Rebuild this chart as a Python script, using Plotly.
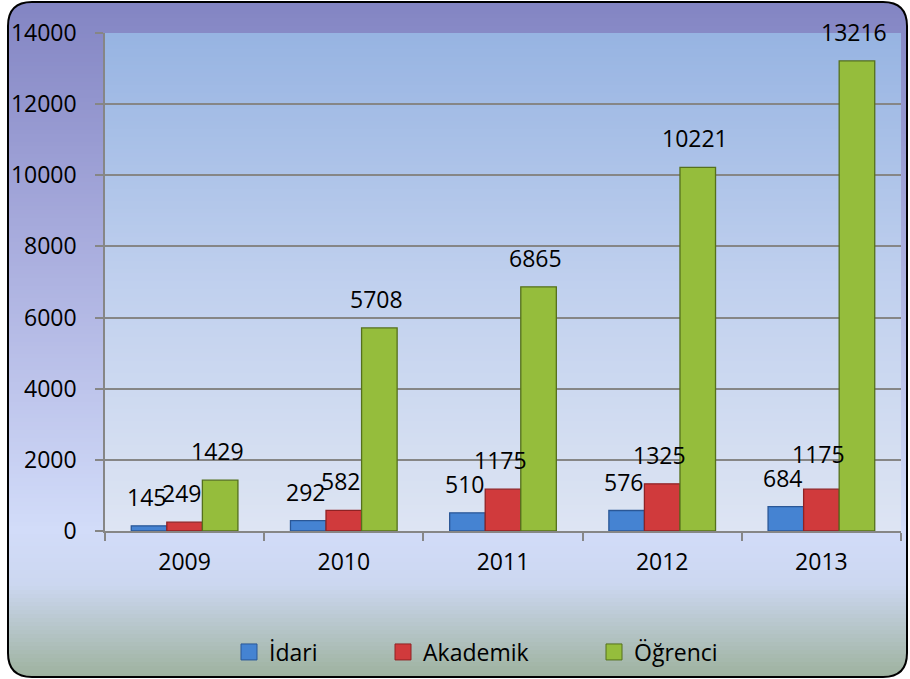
import plotly.graph_objects as go

# ---- data ----
years = ["2009", "2010", "2011", "2012", "2013"]
idari = [145, 292, 510, 576, 684]
akademik = [249, 582, 1175, 1325, 1175]
ogrenci = [1429, 5708, 6865, 10221, 13216]
series_names = ["İdari", "Akademik", "Öğrenci"]
y_ticks = [0, 2000, 4000, 6000, 8000, 10000, 12000, 14000]
y_tick_text = ["0", "2000", "4000", "6000", "8000", "10000", "12000", "14000"]

# ---- styling ----
W, H = 910, 679
L, R, T, B = 105, 9, 33, 148
PW, PH = W - L - R, H - T - B
FONT = "Open Sans"
FS = 23
fills = ["#4583d2", "#d03a3c", "#95bd3c"]
edges = ["#2a5796", "#8f2224", "#55701c"]
BARGAP = 0.33
# extra vertical nudge (px) for a label that sits higher in the original
label_nudge = {(1, 4): 6}


def px(x):
    return (x - L) / PW


def py(y):
    return (H - B - y) / PH


def lerp_color(stops, t):
    for (t0, c0), (t1, c1) in zip(stops, stops[1:]):
        if t <= t1:
            f = 0 if t1 == t0 else (t - t0) / (t1 - t0)
            c = [round(a + (b - a) * f) for a, b in zip(c0, c1)]
            return "rgb(%d,%d,%d)" % tuple(c)
    return "rgb(%d,%d,%d)" % tuple(stops[-1][1])


shapes = []
# outer rounded frame geometry
X0, Y0, X1, Y1, RAD = 8, 2, 907, 677, 24
paper_stops = [(0.0, (131, 133, 195)), (0.35, (168, 172, 221)), (0.78, (210, 220, 249)),
               (0.86, (204, 215, 240)), (1.0, (156, 177, 156))]
step = 4
y = Y0
while y < Y1:
    t = (y - Y0) / (Y1 - Y0)
    shapes.append(dict(type="rect", xref="paper", yref="paper", layer="below",
                       x0=px(X0), x1=px(X1), y0=py(y), y1=py(min(y + step + 1, Y1)),
                       fillcolor=lerp_color(paper_stops, t), line=dict(width=0)))
    y += step

# plot area gradient
plot_stops = [(0.0, (151, 180, 226)), (0.5, (192, 208, 238)), (1.0, (222, 229, 243))]
y = T
while y < H - B:
    t = (y - T) / PH
    shapes.append(dict(type="rect", xref="paper", yref="paper", layer="below",
                       x0=0, x1=1, y0=py(y), y1=py(min(y + step + 1, H - B)),
                       fillcolor=lerp_color(plot_stops, t), line=dict(width=0)))
    y += step


def P(x, y):
    return "%f,%f" % (px(x), py(y))


# white corners outside the rounded frame
corners = [
    "M%s L%s L%s Q%s %s L%s Z" % (P(0, 0), P(X0 + RAD, 0), P(X0 + RAD, Y0), P(X0, Y0), P(X0, Y0 + RAD), P(0, Y0 + RAD)),
    "M%s L%s L%s Q%s %s L%s Z" % (P(W, 0), P(X1 - RAD, 0), P(X1 - RAD, Y0), P(X1, Y0), P(X1, Y0 + RAD), P(W, Y0 + RAD)),
    "M%s L%s L%s Q%s %s L%s Z" % (P(0, H), P(X0 + RAD, H), P(X0 + RAD, Y1), P(X0, Y1), P(X0, Y1 - RAD), P(0, Y1 - RAD)),
    "M%s L%s L%s Q%s %s L%s Z" % (P(W, H), P(X1 - RAD, H), P(X1 - RAD, Y1), P(X1, Y1), P(X1, Y1 - RAD), P(W, Y1 - RAD)),
]
for c in corners:
    shapes.append(dict(type="path", xref="paper", yref="paper", layer="below", path=c,
                       fillcolor="white", line=dict(width=0)))

frame = ("M%s L%s Q%s %s L%s Q%s %s L%s Q%s %s L%s Q%s %s Z" % (
    P(X0 + RAD, Y0), P(X1 - RAD, Y0), P(X1, Y0), P(X1, Y0 + RAD),
    P(X1, Y1 - RAD), P(X1, Y1), P(X1 - RAD, Y1),
    P(X0 + RAD, Y1), P(X0, Y1), P(X0, Y1 - RAD),
    P(X0, Y0 + RAD), P(X0, Y0), P(X0 + RAD, Y0)))
shapes.append(dict(type="path", xref="paper", yref="paper", layer="above", path=frame,
                   line=dict(color="black", width=2)))

fig = go.Figure()
all_series = [idari, akademik, ogrenci]
for name, vals, fc, ec in zip(series_names, all_series, fills, edges):
    fig.add_trace(go.Bar(x=years, y=vals, name=name, showlegend=False, hoverinfo="skip",
                         marker=dict(color=fc, line=dict(color=ec, width=1.3))))

# legend keys
legend_ids = ["legend", "legend2", "legend3"]
for name, fc, ec, lid in zip(series_names, fills, edges, legend_ids):
    fig.add_trace(go.Scatter(x=[None], y=[None], mode="markers", name=name, legend=lid,
                             marker=dict(symbol="square", size=16, color=fc, line=dict(color=ec, width=1))))

# value labels
bw = (1 - BARGAP) / 3
annotations = []
for j, vals in enumerate(all_series):
    for i, v in enumerate(vals):
        annotations.append(dict(x=i + (j - 1) * bw, y=v, xref="x", yref="y", text=str(v),
                                showarrow=False, yanchor="bottom",
                                yshift=11 + label_nudge.get((j, i), 0), xshift=-3,
                                font=dict(family=FONT, size=FS, color="black")))

legend_x = [229, 383, 594]
leg_y = py(652)
legend_common = dict(orientation="h", xanchor="left", yanchor="middle", y=leg_y,
                     bgcolor="rgba(0,0,0,0)", borderwidth=0, itemwidth=30,
                     font=dict(family=FONT, size=FS, color="black"))

fig.update_layout(
    template="none",
    width=W, height=H,
    margin=dict(l=L, r=R, t=T, b=B, pad=0, autoexpand=False),
    paper_bgcolor="white",
    plot_bgcolor="rgba(0,0,0,0)",
    barmode="group", bargap=BARGAP, bargroupgap=0,
    font=dict(family=FONT, size=FS, color="black"),
    shapes=shapes,
    annotations=annotations,
    legend=dict(x=px(legend_x[0]), **legend_common),
    legend2=dict(x=px(legend_x[1]), **legend_common),
    legend3=dict(x=px(legend_x[2]), **legend_common),
    xaxis=dict(type="category", range=[-0.5, 4.5], automargin=False,
               showline=True, linecolor="#868686", linewidth=1.5,
               ticks="outside", tickson="boundaries", ticklen=8, tickcolor="#868686", tickwidth=1.5,
               ticklabelstandoff=10, showgrid=False, zeroline=False,
               tickfont=dict(family=FONT, size=FS, color="black")),
    yaxis=dict(range=[0, 14000], automargin=False, tickvals=y_ticks, ticktext=y_tick_text,
               showline=True, linecolor="#868686", linewidth=1.5,
               ticks="outside", ticklen=8, tickcolor="#868686", tickwidth=1.5,
               showgrid=True, gridcolor="#868686", gridwidth=1.5, zeroline=False,
               ticklabelstandoff=14,
               tickfont=dict(family=FONT, size=FS, color="black")),
)

fig.write_html("out.html", config={"displayModeBar": False},
               post_script="document.body.style.margin='0';document.body.style.overflow='hidden';")
